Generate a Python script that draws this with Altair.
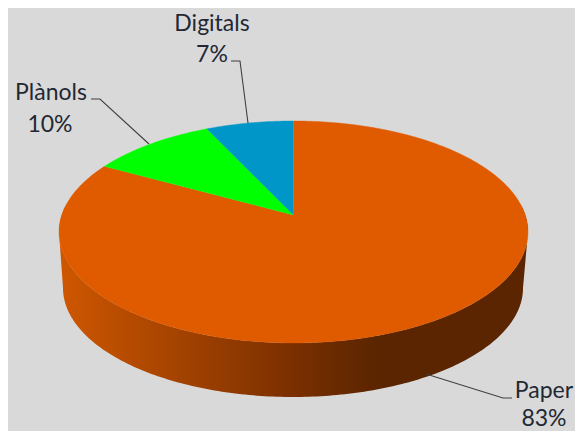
import math
import altair as alt
import pandas as pd

categories = ["Paper", "Plànols", "Digitals"]
shares = [83, 10, 7]
slice_colors = ["#e05a00", "#00ff00", "#0096c8"]
label_x = [544, 51, 212]
label_y = [398, 100, 31]
percent_x = [544, 50, 212]
percent_y = [426, 132, 62]
leaders = [
    [(426, 374), (503, 398), (512, 398)],
    [(149, 144), (100, 99), (91, 99)],
    [(248, 123), (240, 61), (231, 61)],
]

BG = "#d9d9d9"
TEXT = "#1f2833"

# perspective view of the pie's top disc
CX, APEX_Y, R = 293.5, 215.0, 231.7
C, A = 0.153, -75.5


def top_point(frac):
    t = 2 * math.pi * frac
    u, v = math.sin(t), math.cos(t)
    d = 1 + C * v
    return CX + R * u / d, (A * v + APEX_Y) / d


def wedge(start, end):
    n = max(2, int((end - start) * 360))
    pts = [(CX, APEX_Y)]
    pts += [top_point(start + (end - start) * i / n) for i in range(n + 1)]
    return pts


def polygon(pts):
    return pd.DataFrame({"x": [p[0] for p in pts], "y": [p[1] for p in pts], "i": range(len(pts))})


X = alt.X("x:Q", scale=alt.Scale(domain=[8, 575], range=[0, 567]), axis=None)
Y = alt.Y("y:Q", scale=alt.Scale(domain=[428, 8], range=[420, 0]), axis=None)

# side wall: front half of the top rim plus the lower, slightly narrower rim
front = [top_point(0.235 + i * 0.53 / 360) for i in range(361)]
BOT_CX, BOT_CY, BOT_RX, BOT_RY = 293.0, 288.0, 230.0, 109.0
bottom = [
    (BOT_CX + BOT_RX * math.cos(math.pi * i / 180), BOT_CY + BOT_RY * math.sin(math.pi * i / 180))
    for i in range(181)
]
wall_pts = [(59.0, 232.0)] + bottom[::-1] + [(528.0, 232.0)] + front
wall_gradient = alt.Gradient(
    gradient="linear", x1=0, x2=1, y1=0, y2=0,
    stops=[
        alt.GradientStop(offset=0.0, color="#cf5700"),
        alt.GradientStop(offset=0.3, color="#9c3f00"),
        alt.GradientStop(offset=0.5, color="#7a2f00"),
        alt.GradientStop(offset=0.68, color="#5a2500"),
        alt.GradientStop(offset=1.0, color="#5a2500"),
    ],
)
layers = [
    alt.Chart(polygon(wall_pts)).mark_line(fill=wall_gradient, strokeWidth=0, interpolate="linear")
    .encode(x=X, y=Y, order="i:Q")
]

start = 0.0
total = sum(shares)
for share, color in zip(shares, slice_colors):
    end = start + share / total
    layers.append(
        alt.Chart(polygon(wedge(start, end))).mark_line(fill=color, stroke=color, strokeWidth=0.4)
        .encode(x=X, y=Y, order="i:Q")
    )
    start = end

for pts in leaders:
    layers.append(
        alt.Chart(polygon(pts)).mark_line(color="#404040", strokeWidth=1.1).encode(x=X, y=Y, order="i:Q")
    )

names = pd.DataFrame({"x": label_x, "y": label_y, "t": categories})
pcts = pd.DataFrame({"x": percent_x, "y": percent_y, "t": [f"{s}%" for s in shares]})
for df in (names, pcts):
    layers.append(
        alt.Chart(df).mark_text(font="Lato", fontSize=23, color=TEXT, align="center", baseline="alphabetic")
        .encode(x=X, y=Y, text="t:N")
    )

chart = (
    alt.layer(*layers)
    .properties(width=567, height=420, background=BG, padding=0)
    .configure_view(stroke=None)
)
chart.save("out.html", embed_options={"renderer": "svg", "actions": False})
